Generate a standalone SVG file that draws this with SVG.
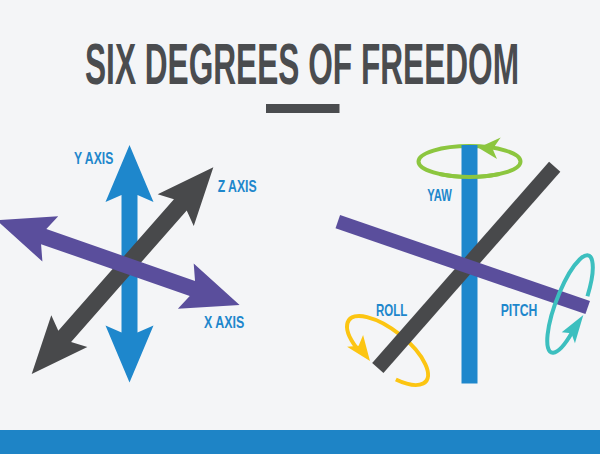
<svg xmlns="http://www.w3.org/2000/svg" width="600" height="454" viewBox="0 0 600 454">
<defs>
<style>
.lbl{font-family:"Liberation Sans","DejaVu Sans",Arial,sans-serif;font-weight:bold;font-size:16.5px;fill:#1e87cc}
.title{font-family:"Liberation Sans","DejaVu Sans",Arial,sans-serif;font-weight:bold;font-size:57px;fill:#4a4c4f}
.ring{fill:none;stroke-width:4}
</style>
</defs>
<rect width="600" height="454" fill="#f4f5f7"/>
<g id="title">
<text class="title" transform="translate(85,84) scale(0.555,1)" x="0" y="0" textLength="782" lengthAdjust="spacingAndGlyphs">SIX DEGREES OF FREEDOM</text>
<rect x="266" y="104" width="73.5" height="9" fill="#4a4c4f"/>
</g>
<g id="axes-left">
<g id="y-axis-arrow">
<polygon transform="translate(129.5,145) rotate(90)" fill="#1e87cc" points="0,0 57,-24 50,-8 187.5,-8 180.5,-24 237.5,0 180.5,24 187.5,8 50,8 57,24"/>
</g>
<g id="z-axis-arrow">
<polygon transform="translate(31.7,374) rotate(-48.7)" fill="#48494b" points="0,0 57,-24 50,-8.5 225.2,-8.5 218.2,-24 275.2,0 218.2,24 225.2,8.5 50,8.5 57,24"/>
</g>
<g id="x-axis-arrow">
<polygon transform="translate(-3.5,220.1) rotate(19.25)" fill="#5a4e9c" points="0,0 57,-24 50,-8 207.5,-8 200.5,-24 257.5,0 200.5,24 207.5,8 50,8 57,24"/>
</g>
<text id="y-axis-label" class="lbl" x="74" y="164" textLength="39.3" lengthAdjust="spacingAndGlyphs">Y AXIS</text>
<text id="z-axis-label" class="lbl" x="217.7" y="191.7" textLength="39" lengthAdjust="spacingAndGlyphs">Z AXIS</text>
<text id="x-axis-label" class="lbl" x="204" y="327.7" textLength="40.3" lengthAdjust="spacingAndGlyphs">X AXIS</text>
</g>
<g id="rotation-right">
<g id="yaw-ring-back">
<ellipse class="ring" cx="469.5" cy="161.5" rx="51" ry="15.5" stroke="#8cc63f"/>
</g>
<g id="roll-ring" transform="translate(387.5,350.5) rotate(38.5)">
<path class="ring" stroke="#fcc512" d="M24.6,17.5 A49.2 20.2 0 1 0 -26.1,17.1"/>
<polygon fill="#fcc512" points="-7.2,19.1 -34,22.2 -25.6,14.2 -28.8,3"/>
</g>
<g id="yaw-bar">
<rect x="461.5" y="145" width="16" height="238.5" fill="#1e87cc"/>
</g>
<g id="yaw-ring-front">
<path class="ring" stroke="#8cc63f" d="M439.5,174 A51 15.5 0 0 0 499.5,174"/>
<polygon fill="#8cc63f" points="478.3,147.7 500.7,137.5 492.7,149 497,159"/>
</g>
<g id="roll-bar">
<line x1="377.8" y1="368" x2="554.7" y2="166.7" stroke="#48494b" stroke-width="15"/>
</g>
<g id="pitch-bar">
<line x1="337.8" y1="221.7" x2="587.7" y2="307.5" stroke="#5a4e9c" stroke-width="14"/>
</g>
<g id="pitch-ring" transform="translate(570,304) rotate(21)">
<path class="ring" stroke="#3cbfbf" d="M13.52,-13.46 A14 52 0 1 0 12.12,26"/>
<polygon fill="#3cbfbf" points="16.4,5.5 2.4,29.4 11.7,26.8 18.7,34.9"/>
</g>
<text id="yaw-label" class="lbl" x="427.3" y="200.7" textLength="24.4" lengthAdjust="spacingAndGlyphs">YAW</text>
<text id="roll-label" class="lbl" x="376" y="315.7" textLength="31.3" lengthAdjust="spacingAndGlyphs">ROLL</text>
<text id="pitch-label" class="lbl" x="500.7" y="315.7" textLength="36.6" lengthAdjust="spacingAndGlyphs">PITCH</text>
</g>
<g id="footer">
<rect x="0" y="430" width="600" height="24" fill="#1e84c6"/>
</g>
</svg>
